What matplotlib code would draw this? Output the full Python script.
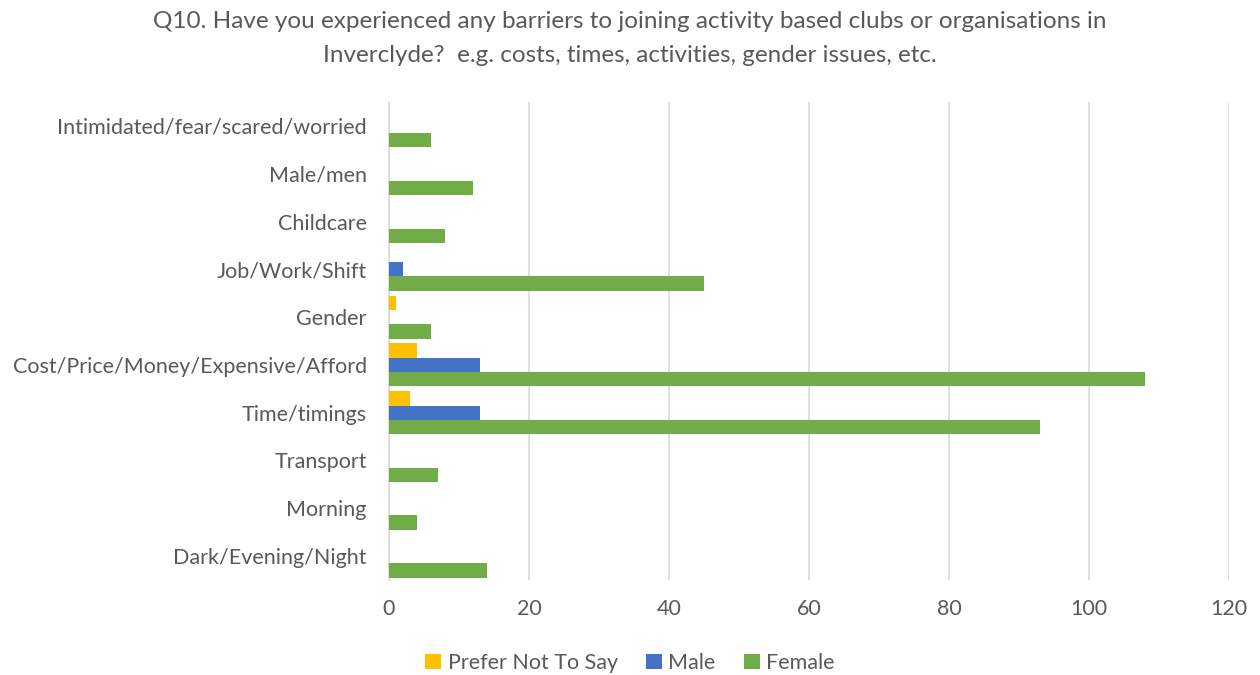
import matplotlib
matplotlib.use('Agg')
import matplotlib.pyplot as plt
import numpy as np

plt.rcParams['font.family'] = ['Lato', 'DejaVu Sans']

# categories listed bottom to top, the way the chart builds them
categories = ['Dark/Evening/Night', 'Morning', 'Transport', 'Time/timings',
              'Cost/Price/Money/Expensive/Afford', 'Gender', 'Job/Work/Shift',
              'Childcare', 'Male/men', 'Intimidated/fear/scared/worried']
prefer_not = [0, 0, 0, 3, 4, 1, 0, 0, 0, 0]
male = [0, 0, 0, 13, 13, 0, 2, 0, 0, 0]
female = [14, 4, 7, 93, 108, 6, 45, 8, 12, 6]
series_names = ['Prefer Not To Say', 'Male', 'Female']
colors = ['#FFC000', '#4472C4', '#70AD47']

fig = plt.figure(figsize=(12.6, 6.75), dpi=100)
ax = fig.add_axes([389 / 1260, 1 - 580 / 675, 840 / 1260, 478 / 675])

y = np.arange(len(categories))
h = 0.3
for vals, off, c, name in zip([prefer_not, male, female], [h, 0, -h], colors, series_names):
    ax.barh(y + off, vals, height=h, color=c, label=name, zorder=3)

ax.set_xlim(0, 120)
ax.set_xticks(range(0, 121, 20))
ax.set_ylim(-0.5, len(categories) - 0.5)
ax.set_yticks(y)
ax.set_yticklabels(categories)
ax.grid(axis='x', color='#d9d9d9', linewidth=1.2, zorder=0)
for s in ['top', 'right', 'bottom']:
    ax.spines[s].set_visible(False)
ax.spines['left'].set_color('#d9d9d9')
ax.spines['left'].set_linewidth(1.2)
ax.tick_params(length=0, labelsize=15.5, colors='#595959', pad=16)
ax.tick_params(axis='x', pad=14)

fig.text(0.5, 1 - 22 / 675, 'Q10. Have you experienced any barriers to joining activity based clubs or organisations in',
         ha='center', va='center', fontsize=17.5, color='#595959')
fig.text(0.5, 1 - 55 / 675, 'Inverclyde?  e.g. costs, times, activities, gender issues, etc.',
         ha='center', va='center', fontsize=17.5, color='#595959')

ax.legend(loc='center', bbox_to_anchor=(0.5, 1 - 663 / 675),
          bbox_transform=fig.transFigure, ncol=3, frameon=False, fontsize=15.5,
          handlelength=0.75, handleheight=0.75, columnspacing=1.3, handletextpad=0.3,
          labelcolor='#595959')

fig.savefig('out.png', dpi=100)
